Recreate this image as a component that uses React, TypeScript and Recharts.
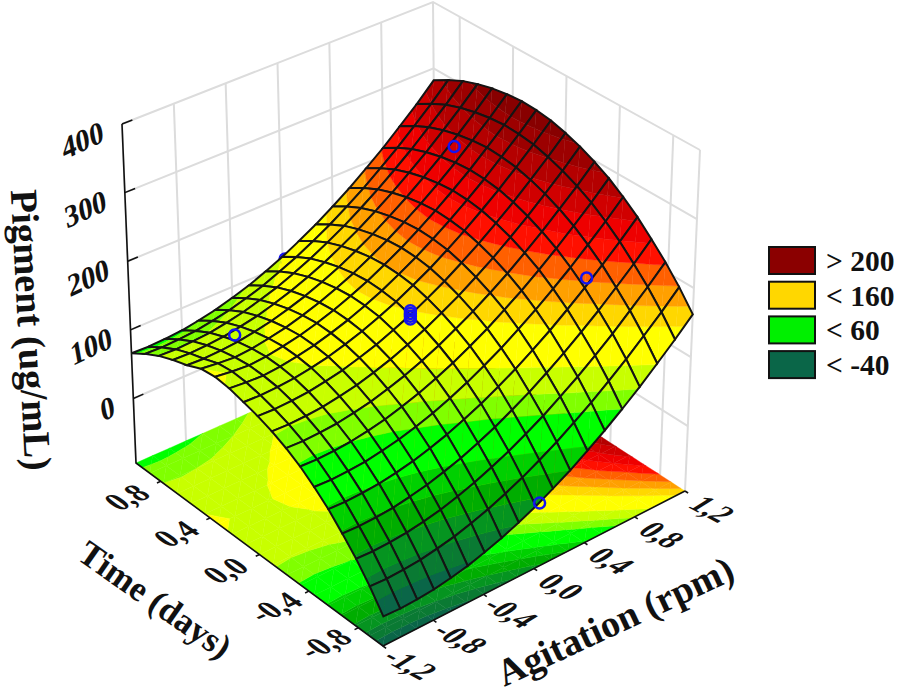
import React from "react";
import { ScatterChart, Scatter, XAxis, YAxis } from "recharts";

const WIDTH = 897;
const HEIGHT = 700;

// Grid nodes of the fitted surface
const agitationNodes = [-1.2, -1.067, -0.933, -0.8, -0.667, -0.533, -0.4, -0.267, -0.133, 0, 0.133, 0.267, 0.4, 0.533, 0.667, 0.8, 0.933, 1.067, 1.2];
const timeNodes = [-1, -0.889, -0.778, -0.667, -0.556, -0.444, -0.333, -0.222, -0.111, 0, 0.111, 0.222, 0.333, 0.444, 0.556, 0.667, 0.778, 0.889, 1];

// One row per time node, one column per agitation node
const pigment = [
  [-54, -55, -54, -52, -48, -43, -36, -28, -18, -7, 6, 20, 36, 53, 72, 92, 114, 137, 162],
  [-27, -28, -27, -25, -21, -16, -9, -1, 9, 20, 33, 47, 63, 80, 99, 119, 141, 164, 189],
  [-3, -4, -3, -1, 3, 8, 15, 23, 33, 44, 57, 71, 87, 104, 123, 143, 165, 188, 213],
  [18, 17, 18, 20, 24, 29, 36, 44, 54, 65, 78, 92, 108, 125, 144, 164, 186, 209, 234],
  [38, 37, 38, 40, 44, 49, 56, 64, 74, 85, 98, 112, 128, 145, 164, 184, 206, 229, 254],
  [55, 54, 55, 57, 61, 66, 73, 81, 91, 102, 115, 129, 145, 162, 181, 201, 223, 246, 271],
  [70, 69, 70, 72, 76, 81, 88, 96, 106, 117, 130, 144, 160, 177, 196, 216, 238, 261, 286],
  [82, 81, 82, 84, 88, 93, 100, 108, 118, 129, 142, 156, 172, 189, 208, 228, 250, 273, 298],
  [92, 91, 92, 94, 98, 103, 110, 118, 128, 139, 152, 166, 182, 199, 218, 238, 260, 283, 308],
  [100, 99, 100, 102, 106, 111, 118, 126, 136, 147, 160, 174, 190, 207, 226, 246, 268, 291, 316],
  [106, 105, 106, 108, 112, 117, 124, 132, 142, 153, 166, 180, 196, 213, 232, 252, 274, 297, 322],
  [112, 110, 109, 111, 115, 120, 127, 135, 145, 156, 169, 183, 199, 216, 235, 255, 277, 300, 325],
  [115, 112, 110, 112, 116, 121, 128, 136, 146, 157, 170, 184, 200, 217, 236, 256, 278, 301, 326],
  [113, 110, 108, 110, 114, 119, 126, 134, 144, 155, 168, 182, 198, 215, 234, 254, 276, 299, 324],
  [104, 103, 104, 106, 110, 115, 122, 130, 140, 151, 164, 178, 194, 211, 230, 250, 272, 295, 320],
  [98, 97, 98, 100, 104, 109, 116, 124, 134, 145, 158, 172, 188, 205, 224, 244, 266, 289, 314],
  [90, 89, 90, 92, 96, 101, 108, 116, 126, 137, 150, 164, 180, 197, 216, 236, 258, 281, 306],
  [79, 78, 79, 81, 85, 90, 97, 105, 115, 126, 139, 153, 169, 186, 205, 225, 247, 270, 295],
  [66, 65, 66, 68, 72, 77, 84, 92, 102, 113, 126, 140, 156, 173, 192, 212, 234, 257, 282],
];

// Measured points
const pointAgitation = [0.02, -0.74, 0, 0, 0, 0, 0.84, 0.93, 0.03];
const pointTime = [1, 0.64, 0, 0, 0, 0, -0.53, 0.58, -1];
const pointPigment = [108, 101, 141, 145, 149, 153, 192, 252, -5];

// Contour bands
const bandTops = [-40, -20, 0, 20, 40, 72, 90, 113, 150, 170, 190, 210, 230, 250, 270, 290, 310, Infinity];
const bandColors = ["#0a6648", "#0a7a33", "#059420", "#00ad00", "#00d000", "#00ff00", "#80ff00", "#c8ff00", "#ffff00", "#ffd700", "#ffa000", "#ff6000", "#ff1000", "#ee0000", "#d00000", "#b40000", "#9c0000", "#880000"];

const agitationTicks = [-1.2, -0.8, -0.4, 0, 0.4, 0.8, 1.2];
const agitationLabels = ["-1,2", "-0,8", "-0,4", "0,0", "0,4", "0,8", "1,2"];
const timeTicks = [0.8, 0.4, 0, -0.4, -0.8];
const timeLabels = ["0,8", "0,4", "0,0", "-0,4", "-0,8"];
const pigmentTicks = [0, 100, 200, 300, 400];

const legendLabels = ["> 200", "< 160", "< 60", "< -40"];
const legendColors = ["#8b0000", "#ffd700", "#00f000", "#0a6648"];

const Z_MIN = -94;
const Z_MAX = 400;
const U_MAX = 1.2;
const V_MAX = 1;

const FONT = "'Liberation Serif', 'Times New Roman', serif";

// box corners on the page, [x, y], named by agitation/time end
const floorBox = { ff: [383, 646], rf: [685, 491], fb: [136, 463], rb: [436, 330] };
const topBox = { ff: [388, 280], rf: [700, 150], fb: [122, 124], rb: [433, 2] };

type Pt = { x: number; y: number; z?: number };

function mix(c: any, s: number, t: number, k: number) {
  return (
    c.ff[k] * (1 - s) * (1 - t) + c.rf[k] * s * (1 - t) + c.fb[k] * (1 - s) * t + c.rb[k] * s * t
  );
}

function project(u: number, v: number, z: number): Pt {
  const s = (u + U_MAX) / (2 * U_MAX);
  const t = (v + V_MAX) / (2 * V_MAX);
  const w = (z - Z_MIN) / (Z_MAX - Z_MIN);
  return {
    x: mix(floorBox, s, t, 0) * (1 - w) + mix(topBox, s, t, 0) * w,
    y: mix(floorBox, s, t, 1) * (1 - w) + mix(topBox, s, t, 1) * w,
  };
}

function clip(poly: any[], limit: number, keepAbove: boolean) {
  const out: any[] = [];
  const inside = (p: any) => (keepAbove ? p.z >= limit : p.z <= limit);
  poly.forEach((p, i) => {
    const q = poly[(i + 1) % poly.length];
    if (inside(p)) out.push(p);
    if (inside(p) !== inside(q)) {
      const f = (limit - p.z) / (q.z - p.z);
      out.push({ x: p.x + (q.x - p.x) * f, y: p.y + (q.y - p.y) * f, z: limit });
    }
  });
  return out;
}

// cut a triangle along the contour levels
function bandPieces(tri: any[]) {
  const pieces: { points: string; fill: string }[] = [];
  let lo = -Infinity;
  bandTops.forEach((hi, b) => {
    let poly = tri;
    if (lo !== -Infinity) poly = clip(poly, lo, true);
    if (poly.length && hi !== Infinity) poly = clip(poly, hi, false);
    if (poly.length > 2) {
      pieces.push({
        points: poly.map((p) => `${p.x.toFixed(1)},${p.y.toFixed(1)}`).join(" "),
        fill: bandColors[b],
      });
    }
    lo = hi;
  });
  return pieces;
}

function buildCells(onFloor: boolean) {
  const cells: any[] = [];
  // back corner first so nearer cells paint over it
  for (let j = timeNodes.length - 2; j >= 0; j--) {
    for (let i = agitationNodes.length - 2; i >= 0; i--) {
      const corner = (a: number, b: number) => ({
        ...project(agitationNodes[a], timeNodes[b], onFloor ? Z_MIN : pigment[b][a]),
        z: pigment[b][a],
      });
      const q = [corner(i, j), corner(i + 1, j), corner(i + 1, j + 1), corner(i, j + 1)];
      cells.push({
        x: (q[0].x + q[2].x) / 2,
        y: (q[0].y + q[2].y) / 2,
        outline: q.map((p) => `${p.x.toFixed(1)},${p.y.toFixed(1)}`).join(" "),
        pieces: [...bandPieces([q[0], q[1], q[2]]), ...bandPieces([q[0], q[2], q[3]])],
      });
    }
  }
  return cells;
}

const floorCells = buildCells(true);
const surfaceCells = buildCells(false);

const points = pointAgitation.map((u, i) => project(u, pointTime[i], pointPigment[i]));

const wallLines = [
  ...pigmentTicks.map((z) => [project(-U_MAX, V_MAX, z), project(U_MAX, V_MAX, z), project(U_MAX, -V_MAX, z)]),
  ...agitationTicks.map((u) => [project(u, V_MAX, Z_MIN), project(u, V_MAX, Z_MAX)]),
  ...timeTicks.map((v) => [project(U_MAX, v, Z_MIN), project(U_MAX, v, Z_MAX)]),
  [project(U_MAX, -V_MAX, Z_MIN), project(U_MAX, -V_MAX, Z_MAX)],
];

const axisLines = [
  [project(-U_MAX, V_MAX, Z_MAX), project(-U_MAX, V_MAX, Z_MIN), project(-U_MAX, -V_MAX, Z_MIN), project(U_MAX, -V_MAX, Z_MIN)],
  ...pigmentTicks.map((z) => [project(-U_MAX, V_MAX, z), project(-1.12, V_MAX, z)]),
  ...timeTicks.map((v) => [project(-U_MAX, v, Z_MIN), project(-1.23, v, Z_MIN)]),
  ...agitationTicks.map((u) => [project(u, -V_MAX, Z_MIN), project(u, -1.025, Z_MIN)]),
];

const offsetLabel = (p: Pt, dx: number, dy: number, label: string) => ({ x: p.x + dx, y: p.y + dy, label });

const pigmentLabelData = pigmentTicks.map((z) => offsetLabel(project(-U_MAX, V_MAX, z), -19, 7, String(z)));
const timeLabelData = timeTicks.map((v, i) => offsetLabel(project(-U_MAX, v, Z_MIN), -34, 16, timeLabels[i]));
const agitationLabelData = agitationTicks.map((u, i) => offsetLabel(project(u, -V_MAX, Z_MIN), 27, 18, agitationLabels[i]));

const legendData = legendLabels.map((label, i) => ({ x: 769, y: 247 + i * 34.7, label, color: legendColors[i] }));

const CellShape = ({ cx, cy, payload, mesh }: any) => (
  <g transform={`translate(${cx - payload.x},${cy - payload.y})`}>
    {payload.pieces.map((p: any, i: number) => (
      <polygon key={i} points={p.points} fill={p.fill} stroke={p.fill} strokeWidth={0.4} />
    ))}
    {mesh && <polygon points={payload.outline} fill="none" stroke="#141414" strokeWidth={2} />}
  </g>
);

const labelShape = (transform: string, size: number, anchor: string) => ({ cx, cy, payload }: any) => (
  <text
    transform={`translate(${cx},${cy}) ${transform}`}
    fontFamily={FONT}
    fontWeight="bold"
    fontSize={size}
    textAnchor={anchor}
    dominantBaseline="central"
    fill="#111"
  >
    {payload.label}
  </text>
);

const LegendShape = ({ cx, cy, payload }: any) => (
  <g>
    <rect x={cx} y={cy} width={46} height={27} fill={payload.color} stroke="#111" strokeWidth={2} />
    <text x={cx + 57} y={cy + 14} fontFamily={FONT} fontWeight="bold" fontSize={29.5} dominantBaseline="central" fill="#111">
      {payload.label}
    </text>
  </g>
);

const nothing = () => <g />;

const PointShape = ({ cx, cy }: any) => <circle cx={cx} cy={cy} r={5.5} fill="none" stroke="#1414f0" strokeWidth={2.5} />;

export default function App() {
  return (
    <div style={{ position: "absolute", left: 0, top: 0, width: WIDTH, height: HEIGHT, background: "#fff" }}>
      <ScatterChart width={WIDTH} height={HEIGHT} margin={{ top: 0, right: 0, bottom: 0, left: 0 }}>
        <XAxis type="number" dataKey="x" domain={[0, WIDTH]} hide />
        <YAxis type="number" dataKey="y" domain={[0, HEIGHT]} reversed hide />

        {wallLines.map((line, i) => (
          <Scatter key={`wall${i}`} data={line} line={{ stroke: "#dcdcdc", strokeWidth: 2 }} shape={nothing} isAnimationActive={false} />
        ))}
        <Scatter data={floorCells} shape={<CellShape mesh={false} />} isAnimationActive={false} />
        {axisLines.map((line, i) => (
          <Scatter key={`axis${i}`} data={line} line={{ stroke: "#111", strokeWidth: 1.6 }} shape={nothing} isAnimationActive={false} />
        ))}
        <Scatter data={points.slice(0, 1)} shape={PointShape} isAnimationActive={false} />
        <Scatter data={surfaceCells} shape={<CellShape mesh />} isAnimationActive={false} />
        <Scatter data={points.slice(1)} shape={PointShape} isAnimationActive={false} />

        <Scatter data={pigmentLabelData} shape={labelShape("rotate(-25) skewX(-15)", 30, "end")} isAnimationActive={false} />
        <Scatter data={timeLabelData} shape={labelShape("rotate(-25) skewX(30)", 29, "middle")} isAnimationActive={false} />
        <Scatter data={agitationLabelData} shape={labelShape("rotate(28) skewX(-30)", 29, "middle")} isAnimationActive={false} />

        <Scatter data={[{ x: 31, y: 330, label: "Pigment (ug/mL)" }]} shape={labelShape("rotate(87)", 38.5, "middle")} isAnimationActive={false} />
        <Scatter data={[{ x: 155, y: 600, label: "Time (days)" }]} shape={labelShape("rotate(35)", 35, "middle")} isAnimationActive={false} />
        <Scatter data={[{ x: 615, y: 621, label: "Agitation (rpm)" }]} shape={labelShape("rotate(-25)", 38, "middle")} isAnimationActive={false} />

        <Scatter data={legendData} shape={LegendShape} isAnimationActive={false} />
      </ScatterChart>
    </div>
  );
}
